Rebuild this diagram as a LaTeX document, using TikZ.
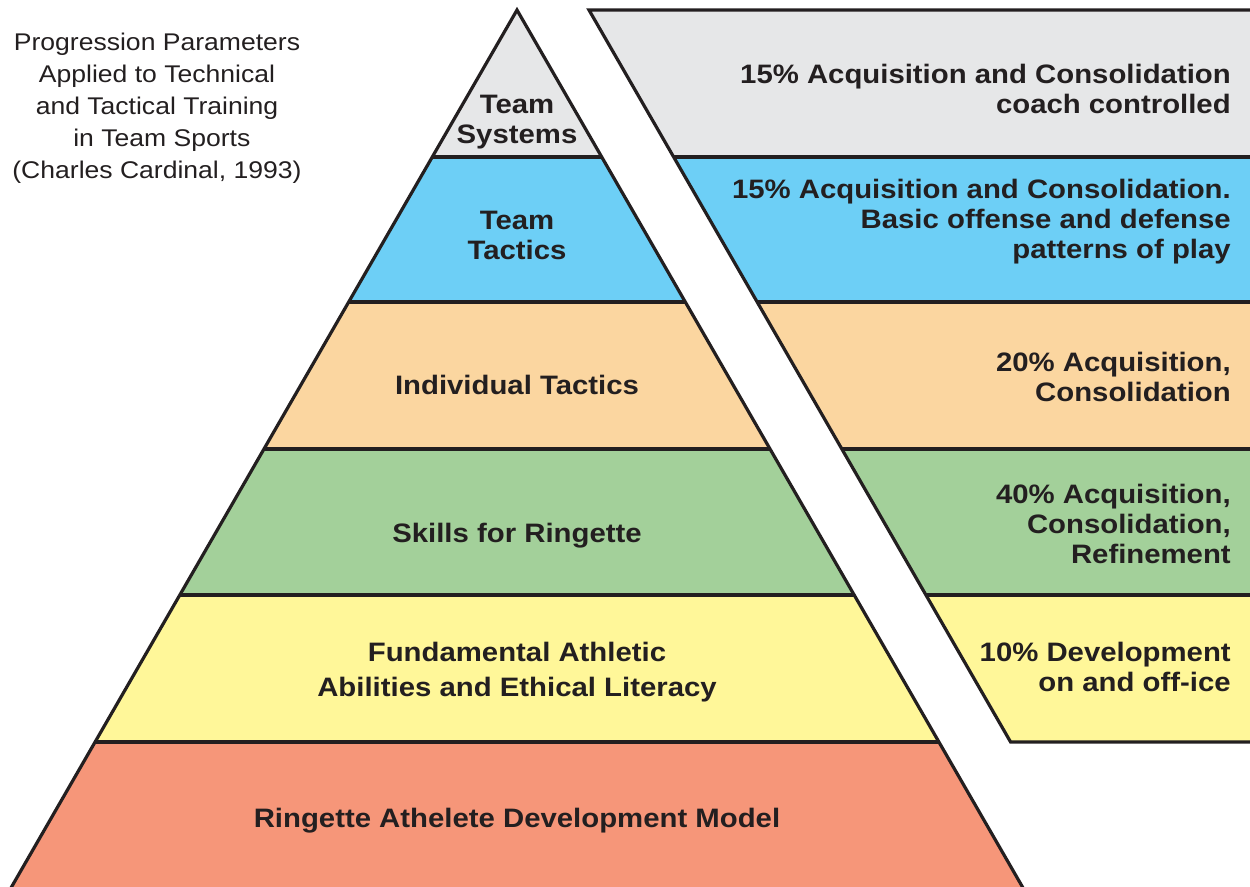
\documentclass[tikz,border=0pt]{standalone}
\usepackage{fontspec}
\setmainfont{Liberation Sans}[FakeStretch=1.1]
\definecolor{ink}{HTML}{231F20}
\definecolor{cgray}{HTML}{E6E7E8}
\definecolor{cblue}{HTML}{6DCFF6}
\definecolor{cpeach}{HTML}{FBD6A0}
\definecolor{cgreen}{HTML}{A3D09A}
\definecolor{cyellow}{HTML}{FFF799}
\definecolor{csalmon}{HTML}{F69679}
\tikzset{
  edge/.style={draw=ink, line width=2.4pt, line join=miter},
  lbl/.style={font=\bfseries\fontsize{20}{22.5}\selectfont, text=ink, align=center, inner sep=0pt},
  rlbl/.style={lbl, align=right, anchor=east},
  ttl/.style={font=\fontsize{18.1}{24}\selectfont, text=ink, align=center, inner sep=0pt}
}
\begin{document}
\begin{tikzpicture}[x=0.75pt,y=-0.75pt]
\useasboundingbox (0,0) rectangle (1250,886);
\clip (0,0) rectangle (1250,886);
% pyramid layers
\fill[cgray] (517,10) -- (601.7,157) -- (432.3,157) -- cycle;
\fill[cblue] (432.3,157) -- (601.7,157) -- (685.2,302) -- (348.8,302) -- cycle;
\fill[cpeach] (348.8,302) -- (685.2,302) -- (769.9,449) -- (264.1,449) -- cycle;
\fill[cgreen] (264.1,449) -- (769.9,449) -- (854.0,595) -- (180.0,595) -- cycle;
\fill[cyellow] (180.0,595) -- (854.0,595) -- (938.6,742) -- (95.4,742) -- cycle;
\fill[csalmon] (95.4,742) -- (938.6,742) -- (1030,900) -- (4,900) -- cycle;
\draw[edge] (4,900) -- (517,10) -- (1030,900);
\foreach \y/\l/\r in {157/432.3/601.7, 302/348.8/685.2, 449/264.1/769.9, 595/180.0/854.0, 742/95.4/938.6}
  \draw[edge] (\l,\y) -- (\r,\y);
% right panel bands
\fill[cgray] (589,10) -- (1260,10) -- (1260,157) -- (673.7,157) -- cycle;
\fill[cblue] (673.7,157) -- (1260,157) -- (1260,302) -- (757.2,302) -- cycle;
\fill[cpeach] (757.2,302) -- (1260,302) -- (1260,449) -- (841.9,449) -- cycle;
\fill[cgreen] (841.9,449) -- (1260,449) -- (1260,595) -- (926.0,595) -- cycle;
\fill[cyellow] (926.0,595) -- (1260,595) -- (1260,742) -- (1010.6,742) -- cycle;
\draw[edge] (1260,10) -- (589,10) -- (1010.6,742) -- (1260,742);
\foreach \y/\l in {157/673.7, 302/757.2, 449/841.9, 595/926.0}
  \draw[edge] (\l,\y) -- (1260,\y);
% pyramid labels
\node[lbl] (l1) at (517,122) {Team\\Systems};
\node[lbl] (l2) at (517,235) {Team\\Tactics};
\node[lbl] (l3) at (517,385) {Individual Tactics};
\node[lbl] (l4) at (517,536) {Skills for Ringette};
\node[lbl, font=\bfseries\fontsize{20}{26}\selectfont] (l5) at (517,672) {Fundamental Athletic\\Abilities and Ethical Literacy};
\node[lbl] (l6) at (517,821) {Ringette Athelete Development Model};
% panel labels
\node[rlbl] (r1) at (1231,89) {15\% Acquisition and Consolidation\\coach controlled};
\node[rlbl] (r2) at (1231,222) {15\% Acquisition and Consolidation.\\Basic offense and defense\\patterns of play};
\node[rlbl] (r3) at (1231,377) {20\% Acquisition,\\Consolidation};
\node[rlbl] (r4) at (1231,524) {40\% Acquisition,\\Consolidation,\\Refinement};
\node[rlbl] (r5) at (1231,667) {10\% Development\\on and off-ice};
% title
\node[ttl] (title) at (157,108) {Progression Parameters\\Applied to Technical\\and Tactical Training\\\hspace*{0.4em}in Team Sports\\(Charles Cardinal, 1993)};
\end{tikzpicture}
\end{document}
